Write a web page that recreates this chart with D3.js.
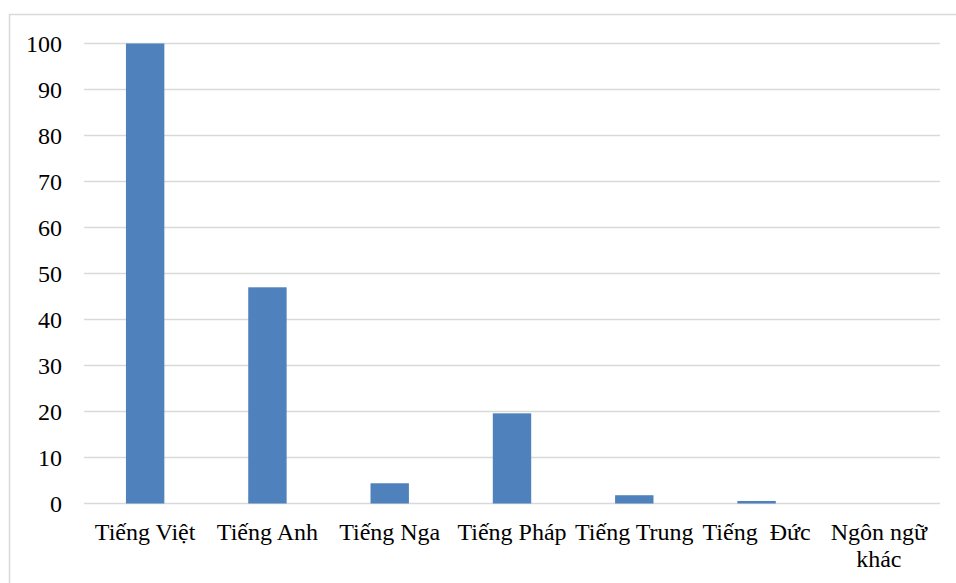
<!DOCTYPE html>
<html>
<head>
<meta charset="utf-8">
<script src="https://cdn.jsdelivr.net/npm/d3@7"></script>
<style>
  html, body { margin: 0; padding: 0; background: #fff; }
  svg { display: block; }
  svg text { font-family: "Liberation Serif", "Times New Roman", serif !important; fill: #000; }
</style>
</head>
<body>
<svg id="chart" width="956" height="583"></svg>
<script>
// Languages and their share (%)
const categories = ["Tiếng Việt", "Tiếng Anh", "Tiếng Nga", "Tiếng Pháp", "Tiếng Trung", "Tiếng  Đức", "Ngôn ngữ khác"];
const values = [100, 47, 4.4, 19.6, 1.8, 0.55, 0];
const yTicks = [0, 10, 20, 30, 40, 50, 60, 70, 80, 90, 100];

const FONT = '"Liberation Serif", "Times New Roman", serif';
const FS = 24;

const svg = d3.select("#chart");
const W = 956, H = 583;
const plot = { left: 84, right: 940, top: 43.5, bottom: 503.5 };

// Outer chart frame
svg.append("rect")
  .attr("x", 9.5).attr("y", 14.5)
  .attr("width", W).attr("height", H)
  .attr("fill", "none").attr("stroke", "#d9d9d9").attr("stroke-width", 1.5);

const x = d3.scaleBand()
  .domain(categories)
  .range([plot.left, plot.right])
  .paddingInner(0.686).paddingOuter(0.343);

const y = d3.scaleLinear().domain([0, 100]).range([plot.bottom, plot.top]);

// Horizontal gridlines
svg.append("g").selectAll("line")
  .data(yTicks).join("line")
  .attr("x1", plot.left).attr("x2", plot.right)
  .attr("y1", d => y(d)).attr("y2", d => y(d))
  .attr("stroke", "#d9d9d9").attr("stroke-width", 1.5);

// Y axis labels
const yAxis = d3.axisLeft(y).tickValues(yTicks).tickSize(0).tickPadding(0);
const gy = svg.append("g").attr("transform", `translate(62,0)`).call(yAxis)
  .attr("font-family", FONT).attr("font-size", FS);
gy.select(".domain").remove();
gy.selectAll("text")
  .style("font-family", FONT)
  .style("font-size", FS + "px")
  .attr("fill", "#000")
  .attr("dy", "0.33em");

// Bars
svg.append("g").selectAll("rect")
  .data(values).join("rect")
  .attr("x", (d, i) => x(categories[i]))
  .attr("width", x.bandwidth())
  .attr("y", d => y(d))
  .attr("height", d => y(0) - y(d))
  .attr("fill", "#4f81bd");

// X axis labels, wrapped to the band width
const xAxis = d3.axisBottom(x).tickSize(0).tickPadding(0);
const gx = svg.append("g").attr("transform", `translate(0,${plot.bottom})`).call(xAxis)
  .attr("font-family", FONT).attr("font-size", FS);
gx.select(".domain").remove();
const step = x.step();
const baseY = 36.5, lineH = 27;
gx.selectAll("text")
  .style("font-family", FONT)
  .style("font-size", FS + "px")
  .attr("fill", "#000")
  .style("white-space", "pre")
  .attr("y", baseY).attr("dy", 0)
  .each(function (d) {
    const t = d3.select(this);
    t.text(null);
    const words = d.split(" ");
    let line = [];
    let lineNo = 0;
    let tspan = t.append("tspan").attr("x", 0).attr("y", baseY);
    for (let k = 0; k < words.length; k++) {
      line.push(words[k]);
      tspan.text(line.join(" "));
      if (tspan.node().getComputedTextLength() > step && line.length > 1) {
        line.pop();
        tspan.text(line.join(" "));
        line = [words[k]];
        lineNo++;
        tspan = t.append("tspan").attr("x", 0).attr("y", baseY + lineNo * lineH).text(words[k]);
      }
    }
  });
</script>
</body>
</html>
